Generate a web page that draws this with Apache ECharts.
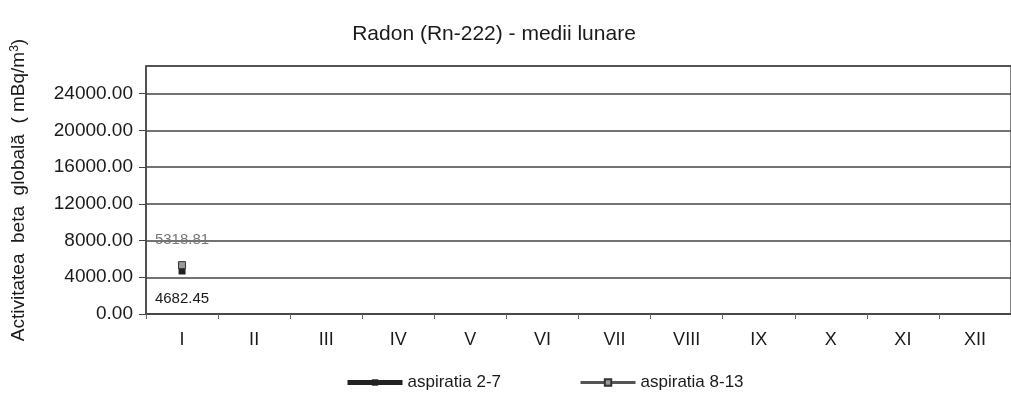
<!DOCTYPE html>
<html>
<head>
<meta charset="utf-8">
<script src="https://cdn.jsdelivr.net/npm/echarts@6/dist/echarts.min.js"></script>
<style>
    html, body { margin: 0; padding: 0; background: #fff; }
    #main { width: 1011px; height: 411px; }
</style>
</head>
<body>
<div id="main"></div>
<script>
// luni
var months = ['I', 'II', 'III', 'IV', 'V', 'VI', 'VII', 'VIII', 'IX', 'X', 'XI', 'XII'];
// medii lunare, doar ianuarie are valori
var aspiratie27 = [4682.45, null, null, null, null, null, null, null, null, null, null, null];
var aspiratie813 = [5318.81, null, null, null, null, null, null, null, null, null, null, null];
var seriesNames = ['aspiratia 2-7', 'aspiratia 8-13'];

loadChart();

function loadChart() {
    var myChart = echarts.init(document.getElementById('main'));
    var option = {
        textStyle: { fontFamily: 'Liberation Sans' },
        title: {
            text: 'Radon (Rn-222) - medii lunare',
            left: 489,
            top: 19,
            textAlign: 'center',
            textStyle: { fontSize: 21, fontWeight: 'normal', color: '#1a1a1a' }
        },
        legend: {
            data: [
                { name: seriesNames[0], lineStyle: { width: 5, color: '#222' } },
                { name: seriesNames[1], lineStyle: { width: 3, color: '#555' } }
            ],
            left: 340,
            top: 369,
            itemWidth: 55,
            itemHeight: 8,
            itemGap: 78,
            textStyle: { fontSize: 17, color: '#1a1a1a' }
        },
        grid: {
            left: 146,
            top: 66,
            right: -11,
            bottom: 97,
            show: true,
            borderColor: '#555',
            borderWidth: 1.5
        },
        xAxis: {
            type: 'category',
            data: months,
            boundaryGap: true,
            axisLine: { lineStyle: { color: '#444', width: 1.5 } },
            axisTick: { show: true, length: 5, lineStyle: { color: '#666' } },
            axisLabel: { fontSize: 18, color: '#1a1a1a', margin: 17 }
        },
        yAxis: {
            type: 'value',
            min: 0,
            max: 27000,
            interval: 4000,
            name: 'Activitatea  beta  globală  ( mBq/m{sup|3})',
            nameLocation: 'middle',
            nameGap: 117,
            nameTextStyle: {
                fontSize: 19,
                color: '#1a1a1a',
                rich: { sup: { fontSize: 12, verticalAlign: 'top', padding: [0, 0, 8, 0] } }
            },
            axisLine: { show: true, lineStyle: { color: '#444', width: 1.5 } },
            axisTick: { show: true, length: 7, lineStyle: { color: '#444' } },
            axisLabel: {
                fontSize: 19,
                color: '#1a1a1a',
                margin: 13,
                showMaxLabel: false,
                formatter: function (v) { return v.toFixed(2); }
            },
            splitLine: { show: true, lineStyle: { color: '#444', width: 1.5 } }
        },
        series: [
            {
                name: seriesNames[0],
                type: 'line',
                data: aspiratie27,
                symbol: 'rect',
                symbolSize: 7,
                itemStyle: { color: '#222' },
                lineStyle: { color: '#222', width: 5 },
                label: {
                    show: true,
                    position: 'bottom',
                    distance: 17,
                    fontSize: 15,
                    color: '#1a1a1a',
                    formatter: function (p) { return p.value.toFixed(2); }
                }
            },
            {
                name: seriesNames[1],
                type: 'line',
                data: aspiratie813,
                symbol: 'rect',
                symbolSize: 7,
                itemStyle: { color: '#999', borderColor: '#333', borderWidth: 1 },
                lineStyle: { color: '#555', width: 3 },
                label: {
                    show: true,
                    position: 'top',
                    distance: 14,
                    fontSize: 15,
                    color: '#777',
                    formatter: function (p) { return p.value.toFixed(2); }
                }
            }
        ]
    };
    myChart.setOption(option);
}
</script>
</body>
</html>
